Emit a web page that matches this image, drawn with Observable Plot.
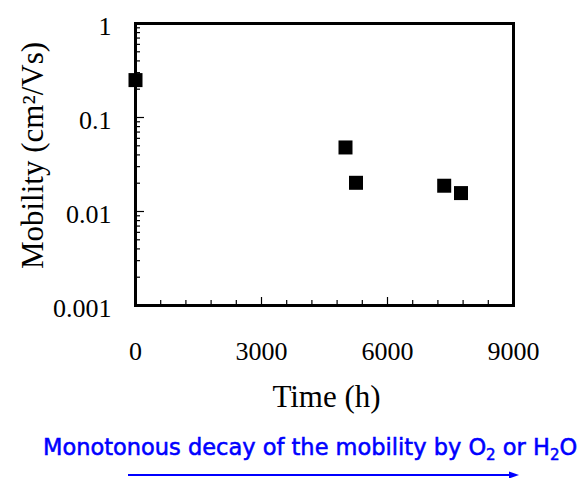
<!DOCTYPE html>
<html><head><meta charset="utf-8">
<script src="https://cdn.jsdelivr.net/npm/d3@7"></script>
<script src="https://cdn.jsdelivr.net/npm/@observablehq/plot@0.6"></script>
<style>
body{margin:0;background:#fff;}
#chart svg{display:block;}
</style></head><body><div id="chart"></div>
<script>
// Data
const timeHours = [0, 5000, 5250, 7350, 7750];
const mobility = [0.25, 0.048, 0.0202, 0.0188, 0.0157];
const xTickLabels = [0, 3000, 6000, 9000];
const yTickLabels = [0.001, 0.01, 0.1, 1];
const xMinorTicks = [600, 1200, 1800, 2400, 3600, 4200, 4800, 5400, 6600, 7200, 7800, 8400];
const yDecades = [0.001, 0.01, 0.1];
const yMinorMultipliers = [2, 3, 4, 5, 6, 7, 8, 9];
const xLabel = "Time (h)";
const yLabel = "Mobility (cm²/Vs)";
const captionParts = [["Monotonous decay of the mobility by O", false], ["2", true], [" or H", false], ["2", true], ["O", false]];

const data = timeHours.map((t, i) => ({time: t, mobility: mobility[i]}));
const yMinorTicks = yDecades.flatMap(d => yMinorMultipliers.map(m => +(d * m).toPrecision(3)));

const serif = "'Liberation Serif', 'Times New Roman', serif";

const plot = Plot.plot({
  width: 584,
  height: 430,
  marginLeft: 135,
  marginRight: 71,
  marginTop: 23,
  marginBottom: 125,
  style: {fontFamily: serif, background: "#fff", color: "#000"},
  x: {domain: [0, 9000]},
  y: {type: "log", domain: [0.001, 1]},
  marks: [
    // minor and major inward ticks
    Plot.axisX(xMinorTicks, {tickSize: -5, text: null, label: null, strokeWidth: 1.2}),
    Plot.axisX(xTickLabels, {tickSize: -8, text: null, label: null, strokeWidth: 1.2}),
    Plot.axisY(yMinorTicks, {tickSize: -5, text: null, label: null, strokeWidth: 1.2}),
    Plot.axisY(yTickLabels, {tickSize: -9, text: null, label: null, strokeWidth: 1.2}),
    // tick labels
    Plot.axisX(xTickLabels, {tickSize: 0, tickPadding: 36, fontSize: 26, label: null, tickFormat: d => String(d)}),
    Plot.axisY(yTickLabels, {tickSize: 0, tickPadding: 24, fontSize: 26, dy: 3, label: null, tickFormat: d => String(d)}),
    // axis titles
    Plot.text([xLabel], {frameAnchor: "bottom", textAnchor: "middle", lineAnchor: "middle", dy: 92, dx: 2, fontSize: 31, fontFamily: serif, fill: "#000"}),
    Plot.text([yLabel], {frameAnchor: "left", textAnchor: "middle", lineAnchor: "middle", rotate: -90, dx: -102, dy: -9, fontSize: 31, fontFamily: serif, fill: "#000"}),
    Plot.frame({stroke: "#000", strokeWidth: 3}),
    Plot.dot(data, {x: "time", y: "mobility", symbol: "square", r: 7.9, fill: "#000", stroke: "none"})
  ]
});
document.getElementById("chart").append(plot);

// caption with arrow below the chart
const cap = d3.create("svg").attr("width", 584).attr("height", 48).style("display", "block");
const txt = cap.append("text").attr("x", 43).attr("y", 25).attr("fill", "#0000ff")
  .attr("stroke", "#0000ff").attr("stroke-width", 0.55)
  .style("font-family", "'DejaVu Sans', Verdana, sans-serif").style("font-size", "22.5px").style("white-space", "pre");
let shifted = false;
captionParts.forEach(([s, sub]) => {
  const ts = txt.append("tspan").text(s);
  if (sub && !shifted) { ts.attr("dy", 5).style("font-size", "15px"); shifted = true; }
  else if (!sub && shifted) { ts.attr("dy", -5); shifted = false; }
});
cap.append("line").attr("x1", 128).attr("x2", 511).attr("y1", 45).attr("y2", 45).attr("stroke", "#0000ff").attr("stroke-width", 2);
cap.append("path").attr("d", "M519,45 L509,41.5 L509,48.5 Z").attr("fill", "#0000ff");
document.getElementById("chart").append(cap.node());
</script></body></html>
